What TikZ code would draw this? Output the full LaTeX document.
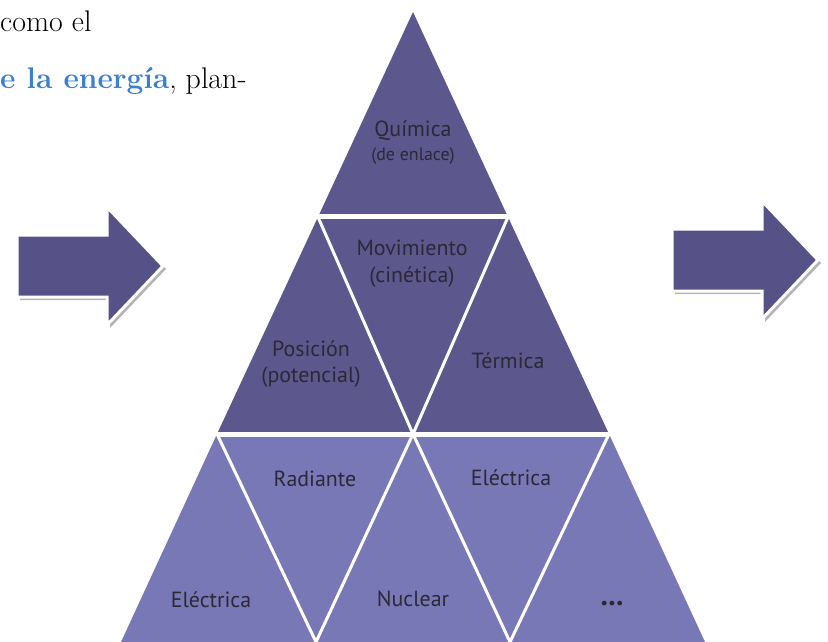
\documentclass[tikz,border=0pt]{standalone}
\usepackage{fontspec}
\newfontfamily\labelfont{PT Sans}
\usetikzlibrary{calc}
\definecolor{tierdark}{RGB}{92,87,141}
\definecolor{tierlight}{RGB}{120,120,182}
\definecolor{arrowfill}{RGB}{86,82,136}
\definecolor{arrowshade}{RGB}{180,180,180}
\definecolor{textblue}{RGB}{58,128,208}
\definecolor{labelink}{RGB}{44,40,54}
\tikzset{
  tile/.style={fill=#1,draw=none},
  seph/.style={draw=white,line width=5bp},
  sepd/.style={draw=white,line width=3bp},
  lbl/.style={font=\labelfont\fontsize{22}{27}\selectfont,text=labelink,align=center,inner sep=0pt},
  prose/.style={font=\fontsize{30}{36}\selectfont,anchor=base west,inner sep=0pt},
  bigarrow/.style={fill=arrowfill,draw=white,line width=3bp,line join=miter},
  arrowshadow/.style={fill=arrowshade},
}
\def\arrowpath{(0,-31) -- (90,-31) -- (90,-59) -- (146,0) -- (90,59) -- (90,31) -- (0,31) -- cycle}

\begin{document}
\begin{tikzpicture}[x=1bp,y=-1bp]
  \useasboundingbox (0,0) rectangle (828,642);
  % text above the figure
  \node[prose] (line1) at (0,32) {como el};
  \node[prose] (line2) at (0,89) {\textcolor{textblue}{\bfseries e la energía}, plan-};
  % arrows
  \begin{scope}[shift={(17,266)}]
    \fill[arrowshadow,shift={(3,3)}] \arrowpath;
    \filldraw[bigarrow] \arrowpath;
  \end{scope}
  \begin{scope}[shift={(672,260)}]
    \fill[arrowshadow,shift={(3,3)}] \arrowpath;
    \filldraw[bigarrow] \arrowpath;
  \end{scope}
  % pyramid corners
  \coordinate (apex) at (413,12);
  \coordinate (l1) at (318,217);
  \coordinate (r1) at (508,217);
  \coordinate (l2) at (217,434);
  \coordinate (m2) at (413,434);
  \coordinate (r2) at (609,434);
  \coordinate (l3) at (121,642);
  \coordinate (b1) at (316,642);
  \coordinate (b2) at (510,642);
  \coordinate (r3) at (705,642);
  % tiers
  \fill[tile=tierdark] (apex) -- (l1) -- (r1) -- cycle;
  \fill[tile=tierdark] (l1) -- (l2) -- (r2) -- (r1) -- cycle;
  \fill[tile=tierlight] (l2) -- (l3) -- (r3) -- (r2) -- cycle;
  % white joints
  \draw[seph] (l1) -- (r1);
  \draw[seph] (l2) -- (r2);
  \draw[sepd] (l1) -- (m2) -- (r1);
  \draw[sepd] (l2) -- (b1) -- (m2) -- (b2) -- (r2);
  % labels
  \node[lbl] (quimica) at (413,143) {Química\\[-3pt]{\fontsize{18}{22}\selectfont(de enlace)}};
  \node[lbl] (movimiento) at (412,264) {Movimiento\\(cinética)};
  \node[lbl] (posicion) at (311,364) {Posición\\(potencial)};
  \node[lbl] (termica) at (508,361) {Térmica};
  \node[lbl] (radiante) at (315,479) {Radiante};
  \node[lbl] (electricab) at (511,478) {Eléctrica};
  \node[lbl] (electricaa) at (211,600) {Eléctrica};
  \node[lbl] (nuclear) at (413,599) {Nuclear};
  \node[lbl,font=\labelfont\bfseries\fontsize{30}{30}\selectfont] (resto) at (612,604) {...};
\end{tikzpicture}
\end{document}
